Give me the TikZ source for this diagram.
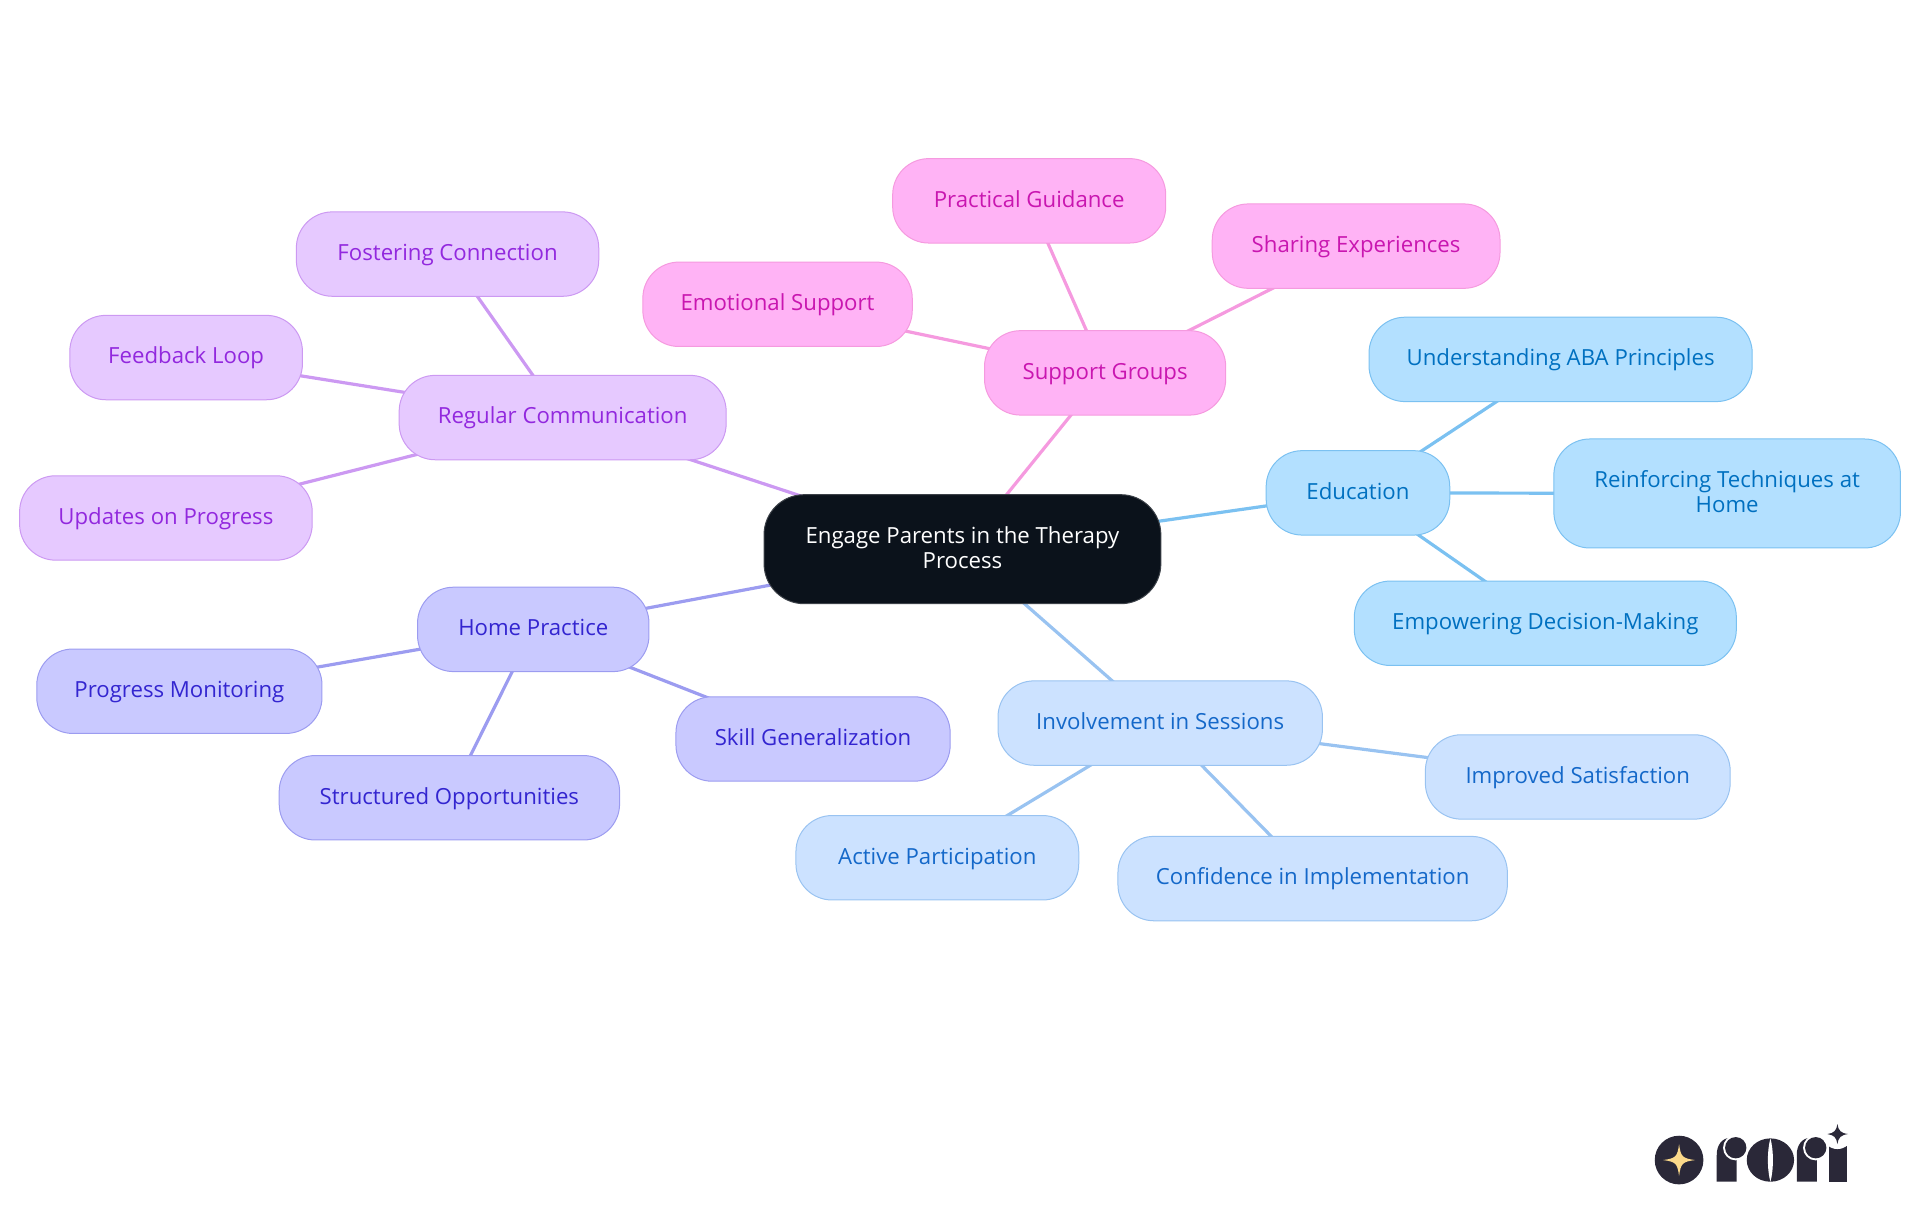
\documentclass[tikz,border=0pt]{standalone}
\usepackage{fontspec}
\setmainfont{Open Sans}
\usetikzlibrary{positioning,backgrounds}

\definecolor{rootfill}{HTML}{0B121B}
\definecolor{rootline}{HTML}{3C4148}
\definecolor{pinkfill}{HTML}{FFB3F5}
\definecolor{pinkline}{HTML}{F59ADF}
\definecolor{pinktext}{HTML}{C916B0}
\definecolor{skyfill}{HTML}{B3E0FF}
\definecolor{skyline}{HTML}{7BC1F1}
\definecolor{skytext}{HTML}{0070C0}
\definecolor{bluefill}{HTML}{CCE2FF}
\definecolor{blueline}{HTML}{99C3F1}
\definecolor{bluetext}{HTML}{1468C9}
\definecolor{indigofill}{HTML}{C9C9FF}
\definecolor{indigoline}{HTML}{9C9CF0}
\definecolor{indigotext}{HTML}{3325D0}
\definecolor{lilacfill}{HTML}{E6C9FF}
\definecolor{lilacline}{HTML}{CC99F2}
\definecolor{lilactext}{HTML}{9228DE}
\definecolor{logoink}{HTML}{2A2838}
\definecolor{logostar}{HTML}{FBD98A}

\tikzset{
  mapnode/.style={rectangle, rounded corners=18pt, draw, line width=0.5pt,
    minimum height=42.2pt, inner sep=0pt, align=center,
    text height=9pt, text depth=2.6pt,
    font=\fontsize{11.1}{12.5}\selectfont},
  twoline/.style={minimum height=54.5pt, text height=21.5pt},
  pinknode/.style={mapnode, fill=pinkfill, draw=pinkline, text=pinktext},
  skynode/.style={mapnode, fill=skyfill, draw=skyline, text=skytext},
  bluenode/.style={mapnode, fill=bluefill, draw=blueline, text=bluetext},
  indigonode/.style={mapnode, fill=indigofill, draw=indigoline, text=indigotext},
  lilacnode/.style={mapnode, fill=lilacfill, draw=lilacline, text=lilactext},
  mapedge/.style={line width=1.6pt}
}

\begin{document}
\begin{tikzpicture}[x=0.61224pt, y=-0.61224pt]
  \useasboundingbox (0,0) rectangle (1568,992.25);

  \node[mapnode, twoline, rounded corners=20pt, fill=rootfill, draw=rootline, text=white, minimum width=198.4pt] (root) at (786,448.5) {Engage Parents in the Therapy\\Process};

  \node[pinknode, minimum width=120.6pt] (support) at (902.5,304.5) {Support Groups};
  \node[pinknode, minimum width=136.5pt] (guidance) at (840.5,164) {Practical Guidance};
  \node[pinknode, minimum width=143.9pt] (sharing) at (1107.5,201) {Sharing Experiences};
  \node[pinknode, minimum width=134.7pt] (emotional) at (635,248.5) {Emotional Support};

  \node[skynode, minimum width=91.8pt] (education) at (1109,402.5) {Education};
  \node[skynode, minimum width=191.6pt] (aba) at (1274.5,293.5) {Understanding ABA Principles};
  \node[skynode, twoline, minimum width=173.3pt] (techniques) at (1410.5,403) {Reinforcing Techniques at\\Home};
  \node[skynode, minimum width=191pt] (decision) at (1262,509) {Empowering Decision-Making};

  \node[bluenode, minimum width=162.2pt] (sessions) at (947.5,590.5) {Involvement in Sessions};
  \node[bluenode, minimum width=152.4pt] (satisfaction) at (1288.5,634.5) {Improved Satisfaction};
  \node[bluenode, minimum width=141.4pt] (active) at (765.5,700.5) {Active Participation};
  \node[bluenode, minimum width=194.7pt] (confidence) at (1072,717.5) {Confidence in Implementation};

  \node[indigonode, minimum width=115.7pt] (home) at (435.5,514) {Home Practice};
  \node[indigonode, minimum width=142.6pt] (monitoring) at (146.5,564.5) {Progress Monitoring};
  \node[indigonode, minimum width=170.2pt] (structured) at (367,651.5) {Structured Opportunities};
  \node[indigonode, minimum width=137.1pt] (skill) at (664,603.5) {Skill Generalization};

  \node[lilacnode, minimum width=163.5pt] (regular) at (459.5,341) {Regular Communication};
  \node[lilacnode, minimum width=151.2pt] (fostering) at (365.5,207.5) {Fostering Connection};
  \node[lilacnode, minimum width=116.3pt] (feedback) at (152,292) {Feedback Loop};
  \node[lilacnode, minimum width=146.3pt] (updates) at (135.5,423) {Updates on Progress};

  \begin{scope}[on background layer]
    \path (root.center) edge [mapedge, pinkline] (support.center);
    \path (support.center) edge [mapedge, pinkline] (guidance.center);
    \path (support.center) edge [mapedge, pinkline] (sharing.center);
    \path (support.center) edge [mapedge, pinkline] (emotional.center);

    \path (root.center) edge [mapedge, skyline] (education.center);
    \path (education.center) edge [mapedge, skyline] (aba.center);
    \path (education.center) edge [mapedge, skyline] (techniques.center);
    \path (education.center) edge [mapedge, skyline] (decision.center);

    \path (root.center) edge [mapedge, blueline] (sessions.center);
    \path (sessions.center) edge [mapedge, blueline] (satisfaction.center);
    \path (sessions.center) edge [mapedge, blueline] (active.center);
    \path (sessions.center) edge [mapedge, blueline] (confidence.center);

    \path (root.center) edge [mapedge, indigoline] (home.center);
    \path (home.center) edge [mapedge, indigoline] (monitoring.center);
    \path (home.center) edge [mapedge, indigoline] (structured.center);
    \path (home.center) edge [mapedge, indigoline] (skill.center);

    \path (root.center) edge [mapedge, lilacline] (regular.center);
    \path (regular.center) edge [mapedge, lilacline] (fostering.center);
    \path (regular.center) edge [mapedge, lilacline] (feedback.center);
    \path (regular.center) edge [mapedge, lilacline] (updates.center);
  \end{scope}

  % logo
  \begin{scope}[x=0.16667pt, y=-0.16667pt, shift={(4860,3300)}]
    \fill[logoink] (177,180) circle [radius=73];
    \fill[logostar] (177,132) .. controls (182,170) and (187,175) .. (225,180)
      .. controls (187,185) and (182,190) .. (177,228)
      .. controls (172,190) and (167,185) .. (129,180)
      .. controls (167,175) and (172,170) .. (177,132) -- cycle;
    \foreach \dx in {0,240} {
      \fill[logoink] (290+\dx,245) -- (290+\dx,165) .. controls (290+\dx,135) and (305+\dx,115) .. (330+\dx,113)
        -- (360+\dx,113) -- (350+\dx,180) -- (350+\dx,245) -- cycle;
      \fill[white] (347+\dx,143) circle [radius=38];
      \fill[logoink] (347+\dx,143) circle [radius=32];
    }
    \fill[logoink] (451,180) ellipse [x radius=71, y radius=65];
    \fill[white] (451,115) .. controls (441,150) and (441,210) .. (451,245)
      .. controls (461,210) and (461,150) .. (451,115) -- cycle;
    \fill[logoink] (627,245) rectangle (680,138);
    \fill[white] (652,102) circle [radius=45];
    \fill[logoink] (652,72) .. controls (655,92) and (662,99) .. (684,102)
      .. controls (662,105) and (655,112) .. (652,132)
      .. controls (649,112) and (642,105) .. (622,102)
      .. controls (642,99) and (649,92) .. (652,72) -- cycle;
  \end{scope}
\end{tikzpicture}
\end{document}
